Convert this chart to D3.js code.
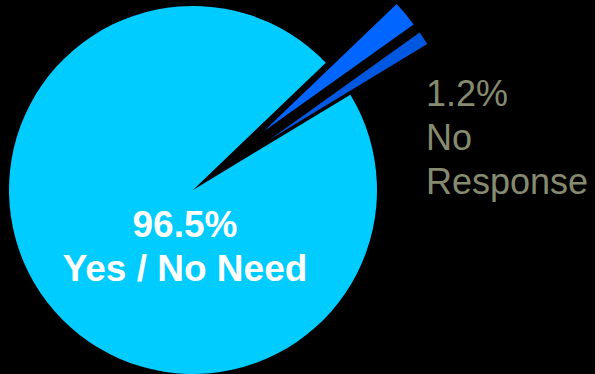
<!DOCTYPE html>
<html>
<head>
<meta charset="utf-8">
<script src="https://cdn.jsdelivr.net/npm/d3@7/dist/d3.min.js"></script>
<style>
  html, body { margin: 0; padding: 0; background: #000; }
  svg { display: block; }
</style>
</head>
<body>
<svg id="chart" width="595" height="374"></svg>
<script>
// Survey responses (percent)
const categories = ["Yes / No Need", "Other", "No Response"];
const values = [96.5, 2.3, 1.2];
const colors = ["#00ccff", "#0066ff", "#0058e0"];
const exploded = [false, true, true];
const labelLines = [["96.5%", "Yes / No Need"], [], ["1.2%", "No", "Response"]];

const width = 595, height = 374;
const cx = 193, cy = 190, radius = 184, explodeDist = 92;
const startDeg = 58.8;

const svg = d3.select("#chart");
svg.append("rect").attr("width", width).attr("height", height).attr("fill", "#000");

const data = categories.map((c, i) => ({ category: c, value: values[i], color: colors[i], exploded: exploded[i], lines: labelLines[i] }));

const pie = d3.pie()
  .sort(null)
  .value(d => d.value)
  .startAngle(startDeg * Math.PI / 180)
  .endAngle(startDeg * Math.PI / 180 + 2 * Math.PI);

const arc = d3.arc().innerRadius(0).outerRadius(radius);

const g = svg.append("g").attr("transform", `translate(${cx},${cy})`);

g.selectAll("path.slice")
  .data(pie(data))
  .join("path")
  .attr("class", "slice")
  .attr("fill", d => d.data.color)
  .attr("d", arc)
  .attr("transform", d => {
    if (!d.data.exploded) return null;
    const mid = (d.startAngle + d.endAngle) / 2;
    return `translate(${explodeDist * Math.sin(mid)},${-explodeDist * Math.cos(mid)})`;
  });

// Label inside the large slice
const inner = svg.append("text")
  .attr("text-anchor", "middle")
  .attr("font-family", "Liberation Sans, Arial, sans-serif")
  .attr("font-weight", "bold")
  .attr("font-size", 37)
  .attr("fill", "#ffffff");
data[0].lines.forEach((t, i) => {
  inner.append("tspan").attr("x", 185).attr("y", 237 + i * 44).text(t);
});

// Label beside the small exploded slice
const outer = svg.append("text")
  .attr("font-family", "Liberation Sans, Arial, sans-serif")
  .attr("font-size", 36)
  .attr("fill", "#868b70");
data[2].lines.forEach((t, i) => {
  outer.append("tspan").attr("x", 426).attr("y", 106 + i * 44).text(t);
});
</script>
</body>
</html>
